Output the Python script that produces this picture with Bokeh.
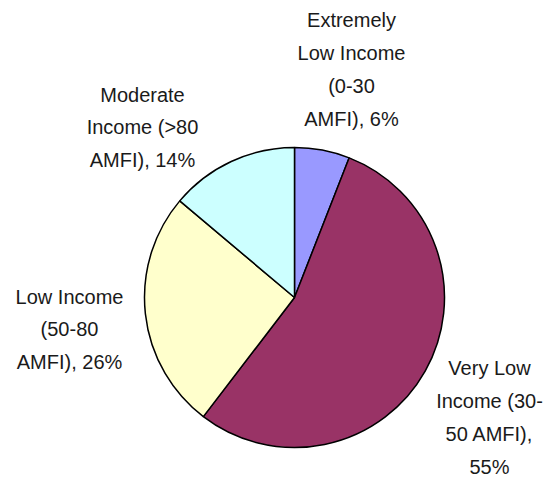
import math
from bokeh.plotting import figure
from bokeh.models import Range1d, ColumnDataSource
from bokeh.core.properties import value
from bokeh.embed import file_html
from bokeh.resources import INLINE

categories = ["Extremely Low Income (0-30 AMFI)", "Very Low Income (30-50 AMFI)",
              "Low Income (50-80 AMFI)", "Moderate Income (>80 AMFI)"]
shares = [6, 55, 26, 14]
colors = ["#9999FF", "#993366", "#FFFFCC", "#CCFFFF"]
label_texts = ["Extremely\nLow Income\n(0-30\nAMFI), 6%",
               "Very Low\nIncome (30-\n50 AMFI),\n55%",
               "Low Income\n(50-80\nAMFI), 26%",
               "Moderate\nIncome (>80\nAMFI), 14%"]

W, H = 546, 480
p = figure(width=W, height=H, output_backend="svg", toolbar_location=None,
           x_range=Range1d(0, W), y_range=Range1d(480 - H, 480),
           min_border=0)
p.axis.visible = False
p.grid.visible = False
p.outline_line_color = None

cx, cy, r = 294, 480 - 297, 150
total = sum(shares)
starts, ends = [], []
a = math.pi / 2
for s in shares:
    starts.append(a)
    a -= 2 * math.pi * s / total
    ends.append(a)

src = ColumnDataSource(dict(start=starts, end=ends, color=colors, cat=categories))
p.wedge(x=cx, y=cy, radius=r, start_angle="start", end_angle="end", direction="clock",
        fill_color="color", line_color="black", line_width=1.5, source=src)

# label anchor positions (page pixel coordinates of text block centers)
lab_x = [351, 489, 69, 142]
lab_y = [69, 417, 329, 127]
lsrc = ColumnDataSource(dict(x=lab_x, y=[480 - v for v in lab_y], t=label_texts))
p.text(x="x", y="y", text="t", source=lsrc, text_align="center", text_baseline="middle",
       text_font=value("Liberation Sans"), text_font_size="20px",
       text_color="#1a1a1a", text_line_height=1.49)

open("out.html", "w").write(file_html(p, INLINE))
